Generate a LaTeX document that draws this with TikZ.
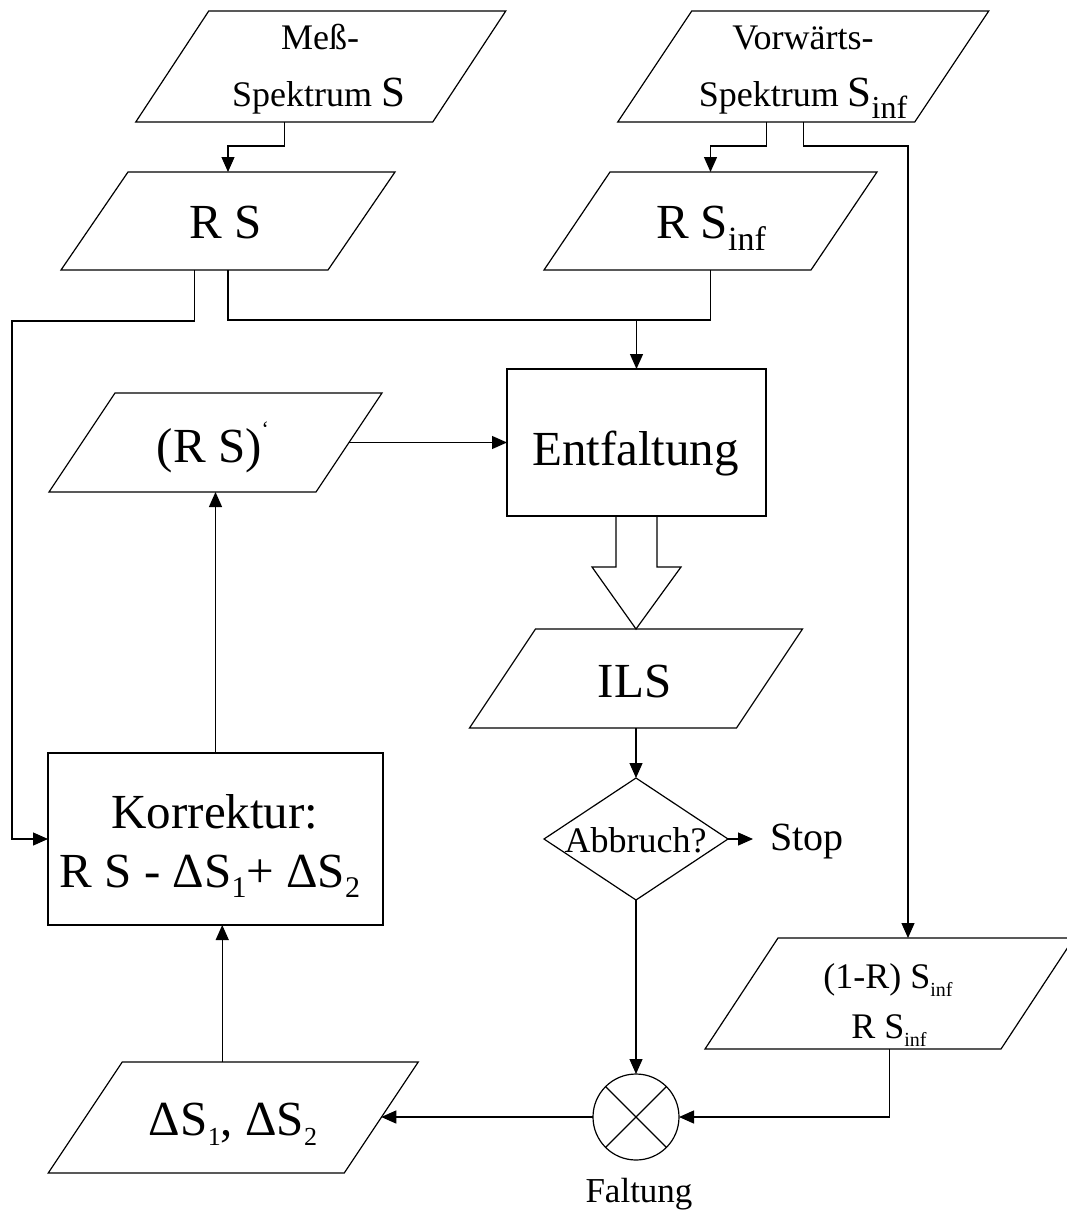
\documentclass[tikz,border=0pt]{standalone}
\usepackage{fontspec}
\setmainfont{Liberation Serif}
\usetikzlibrary{arrows.meta,calc}
\newcommand\lowsub[3]{\raisebox{-#1}{\fontsize{#2}{#2}\selectfont #3}}
\newcommand\plg[6]{%
  \node[frame, minimum width=#4, minimum height=#5] (#1) at (#2,#3) {};
  \draw ([xshift=-#6/2]#1.south west) -- ([xshift=-#6/2]#1.south east)
     -- ([xshift=#6/2]#1.north east) -- ([xshift=#6/2]#1.north west) -- cycle;
}
\begin{document}
\begin{tikzpicture}[x=1pt,y=-1pt,line width=1.2pt,
  >={Triangle[length=15pt,width=13pt]},
  frame/.style={inner sep=0pt, outer sep=0pt},
  rbox/.style={draw, inner sep=0pt, outer sep=0pt},
  big/.style={font=\fontsize{49}{55}\selectfont, inner sep=0pt, anchor=base},
  small/.style={font=\fontsize{36}{40}\selectfont, inner sep=0pt, anchor=base}]
\useasboundingbox (0,0) rectangle (1066,1212);

% parallelograms
\plg{ms}{320.75}{66.5}{297}{111}{73}
\plg{vs}{803.25}{66.5}{297}{111}{74}
\plg{rs}{228}{221}{267}{98}{67}
\plg{rsi}{710.5}{221}{267}{98}{66}
\plg{rsp}{215.5}{442.5}{267}{99}{66}
\plg{ils}{636}{678.5}{267}{99}{66}
\plg{oneR}{889.5}{993.5}{296}{111}{73}
\plg{ds}{233.25}{1117.5}{296}{111}{74}

% rectangles
\node[rbox, minimum width=259, minimum height=147] (ent) at (636.5,442.5) {};
\node[rbox, minimum width=335, minimum height=172] (kor) at (215.5,839) {};

% diamond
\node[frame, minimum width=184, minimum height=122] (dia) at (636,839) {};
\draw (dia.north) -- (dia.east) -- (dia.south) -- (dia.west) -- cycle;

% circle (Faltung)
\node[draw, circle, inner sep=0pt, outer sep=0pt, minimum size=86] (cir) at (636,1117) {};
\draw (cir.north west) -- (cir.south east) (cir.north east) -- (cir.south west);

% texts
\node[small] (ms-a) at (320,50) {Meß-};
\node[small] (ms-b) at (318.5,107) {Spektrum {\fontsize{43}{43}\selectfont S}};
\node[small] (vs-a) at (803,50) {Vorwärts-};
\node[small] (vs-b) at (803,107) {Spektrum {\fontsize{43}{43}\selectfont S}\lowsub{11pt}{32}{inf}};
\node[big] (rs-t) at (226,238) {R S};
\node[big] (rsi-t) at (711,238) {R S\lowsub{12pt}{34}{inf}};
\node[big] (rsp-t) at (213,462) {(R S)\raisebox{26pt}{\fontsize{22}{22}\selectfont ‘}};
\node[big] (ent-t) at (635.5,465) {Entfaltung};
\node[big] (ils-t) at (634.5,697) {ILS};
\node[big] (kor-a) at (215,828) {Korrektur:};
\node[big] (kor-b) at (210,887) {R S - ΔS\lowsub{10pt}{30}{1}+ ΔS\lowsub{10pt}{30}{2}};
\node[small] (dia-t) at (635.5,852) {Abbruch?};
\node[font=\fontsize{40}{44}\selectfont, inner ysep=0pt, inner xsep=17pt, anchor=base west] (stop) at (753,850) {Stop};
\node[small] (one-a) at (888,988) {(1-R) S\lowsub{8pt}{20}{inf}};
\node[small] (one-b) at (889,1038) {R S\lowsub{8pt}{20}{inf}};
\node[big] (ds-t) at (233,1135) {ΔS\lowsub{10pt}{26}{1}, ΔS\lowsub{10pt}{26}{2}};
\node[font=\fontsize{35}{40}\selectfont, inner sep=0pt, anchor=base] (falt) at (639,1202) {Faltung};

% connectors
\coordinate (jn) at ([yshift=49]ent.north);
\coordinate (lft) at (12,321);
\draw[->] ([xshift=-36.5]ms.south) -- ++(0,24) -| (rs.north);
\draw[->] ([xshift=-37]vs.south) -- ++(0,24) -| (rsi.north);
\draw[->] (vs.south) -- ++(0,24) -| ([xshift=18.5]oneR.north);
\draw (rs.south) |- (jn) -| (rsi.south);
\draw[->] (jn) -- (ent.north);
\draw[->] ([xshift=-33.5]rs.south) |- (lft) |- (kor.west);
\draw[->] (rsp.east) -- (rsp.east -| ent.west);
\draw[->] (kor.north) -- (rsp.south);
\draw ([xshift=-20.5]ent.south) -- ++(0,51) -- ++(-24,0) -- (ils.north)
  -- ([xshift=44.5,yshift=-51]ent.south) -- ([xshift=20.5,yshift=-51]ent.south)
  -- ([xshift=20.5]ent.south);
\draw[->] (ils.south) -- (dia.north);
\draw[->] (dia.east) -- (dia.east -| stop.west);
\draw[->] (dia.south) -- (cir.north);
\draw[->] (oneR.south) |- (cir.east);
\draw[->] (cir.west) -- (cir.west -| ds.east);
\draw[->] ([xshift=-11]ds.north) -- ([xshift=-11]ds.north |- kor.south);
\end{tikzpicture}
\end{document}
